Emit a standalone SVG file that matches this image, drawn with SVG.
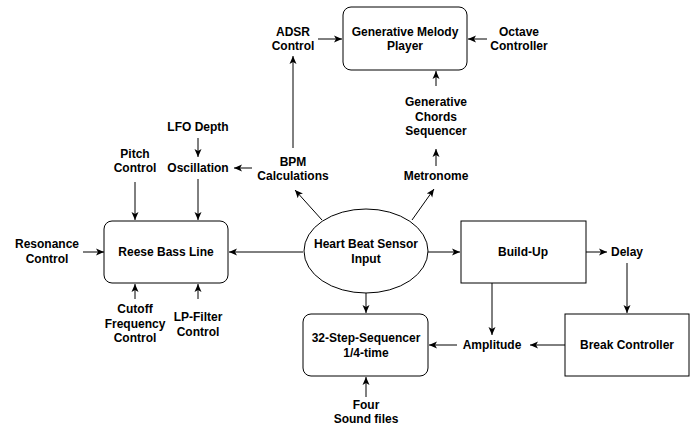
<svg xmlns="http://www.w3.org/2000/svg" width="691" height="426" viewBox="0 0 691 426">
<style>
text{font-family:"Liberation Sans",Arial,Helvetica,sans-serif;font-size:12px;font-weight:bold;fill:#000;text-anchor:middle}
.box{fill:#fff;stroke:#000;stroke-width:1}
.c{fill:none;stroke:#000;stroke-width:1;marker-end:url(#ah)}
</style>
<defs>
<marker id="ah" markerWidth="10" markerHeight="8" refX="8" refY="4" orient="auto" markerUnits="userSpaceOnUse">
<path d="M0,0.5 L8,4 L0,7.5 L2,4 Z" fill="#000"/>
</marker>
</defs>
<g id="connectors">
<line class="c" x1="318" y1="39" x2="342" y2="39"/>
<line class="c" x1="487" y1="39" x2="468" y2="39"/>
<line class="c" x1="293" y1="148" x2="293" y2="56"/>
<line class="c" x1="436" y1="86" x2="436" y2="71"/>
<line class="c" x1="436" y1="166" x2="436" y2="149"/>
<line class="c" x1="412" y1="220" x2="434" y2="189"/>
<line class="c" x1="198" y1="138" x2="198" y2="157"/>
<line class="c" x1="198" y1="179" x2="198" y2="220"/>
<line class="c" x1="135" y1="182" x2="135" y2="220"/>
<line class="c" x1="252" y1="168" x2="234" y2="168"/>
<line class="c" x1="322" y1="220" x2="295" y2="190"/>
<line class="c" x1="83" y1="252" x2="104" y2="252"/>
<line class="c" x1="303" y1="252" x2="229" y2="252"/>
<line class="c" x1="428" y1="252" x2="460" y2="252"/>
<line class="c" x1="586" y1="252" x2="607" y2="252"/>
<line class="c" x1="627" y1="263" x2="627" y2="313"/>
<line class="c" x1="565" y1="345" x2="530" y2="345"/>
<line class="c" x1="492" y1="282" x2="492" y2="335"/>
<line class="c" x1="457" y1="345" x2="429" y2="345"/>
<line class="c" x1="366" y1="293" x2="366" y2="313"/>
<line class="c" x1="366" y1="397" x2="366" y2="377"/>
<line class="c" x1="135" y1="299" x2="135" y2="284"/>
<line class="c" x1="198" y1="299" x2="198" y2="284"/>
</g>
<g id="melody"><rect class="box" x="343" y="7" width="124" height="63" rx="8"/><text x="405" y="36">Generative Melody</text><text x="405" y="50">Player</text></g>
<g id="octave"><text x="519" y="36">Octave</text><text x="519" y="50">Controller</text></g>
<g id="adsr"><text x="293" y="36">ADSR</text><text x="293" y="50">Control</text></g>
<g id="chords"><text x="436" y="106">Generative</text><text x="436" y="121">Chords</text><text x="436" y="135">Sequencer</text></g>
<g id="metronome"><text x="436" y="180">Metronome</text></g>
<g id="lfo"><text x="198" y="131">LFO Depth</text></g>
<g id="oscillation"><text x="198" y="172">Oscillation</text></g>
<g id="pitch"><text x="135" y="158">Pitch</text><text x="135" y="172">Control</text></g>
<g id="bpm"><text x="293" y="166">BPM</text><text x="293" y="180">Calculations</text></g>
<g id="reese"><rect class="box" x="104" y="221" width="124" height="62" rx="8"/><text x="166" y="256">Reese Bass Line</text></g>
<g id="resonance"><text x="47" y="248">Resonance</text><text x="47" y="263">Control</text></g>
<g id="heart"><ellipse class="box" cx="366" cy="251" rx="62" ry="42"/><text x="366" y="248">Heart Beat Sensor</text><text x="366" y="263">Input</text></g>
<g id="buildup"><rect class="box" x="461" y="221" width="125" height="62"/><text x="523" y="256">Build-Up</text></g>
<g id="delay"><text x="627" y="256">Delay</text></g>
<g id="break"><rect class="box" x="565" y="314" width="124" height="62"/><text x="627" y="349">Break Controller</text></g>
<g id="amplitude"><text x="492" y="349">Amplitude</text></g>
<g id="sequencer"><rect class="box" x="303" y="314" width="125" height="62" rx="8"/><text x="366" y="342">32-Step-Sequencer</text><text x="366" y="357">1/4-time</text></g>
<g id="sound"><text x="366" y="409">Four</text><text x="366" y="423">Sound files</text></g>
<g id="cutoff"><text x="135" y="313">Cutoff</text><text x="135" y="328">Frequency</text><text x="135" y="342">Control</text></g>
<g id="lpfilter"><text x="198" y="321">LP-Filter</text><text x="198" y="336">Control</text></g>
</svg>
